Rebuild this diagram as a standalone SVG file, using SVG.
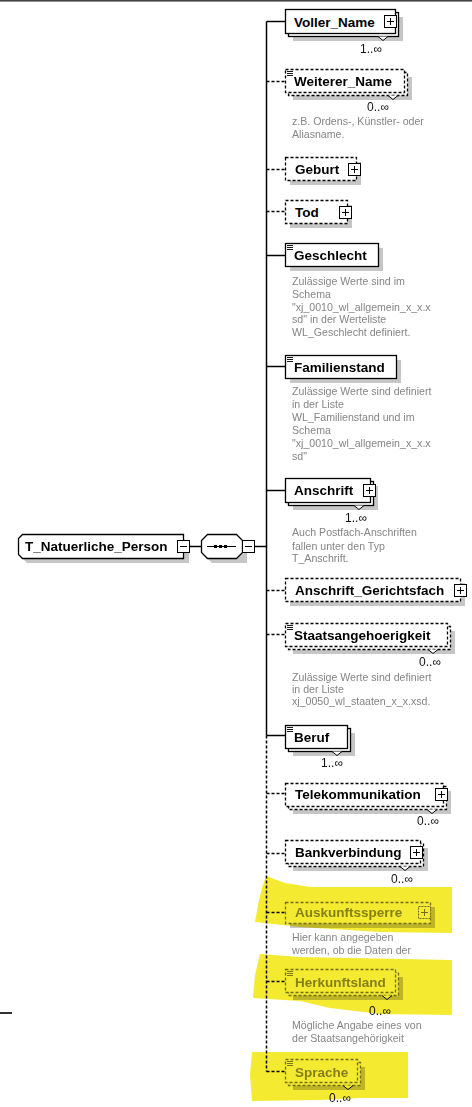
<svg xmlns="http://www.w3.org/2000/svg" xmlns:xlink="http://www.w3.org/1999/xlink" width="472" height="1107" viewBox="0 0 472 1107">
  <style>
    .box { fill: #fff; stroke: #000; stroke-width: 1.3; }
    .opt { fill: #fff; stroke: #000; stroke-width: 1.3; stroke-dasharray: 3 2; }
    .dis { fill: #fff; stroke: #777; stroke-width: 1.3; stroke-dasharray: 3 2; }
    .shadow { fill: #c6c6c6; }
    .name { font-family: "Liberation Sans", Arial, sans-serif; font-weight: bold; font-size: 13.5px; fill: #000; }
    .name-dis { font-family: "Liberation Sans", Arial, sans-serif; font-weight: bold; font-size: 13.5px; fill: #8c8c8c; }
    .occ { font-family: "Liberation Sans", Arial, sans-serif; font-size: 12px; fill: #111; text-anchor: end; }
    .doc { font-family: "Liberation Sans", Arial, sans-serif; font-size: 10.6px; fill: #858585; }
    .notch { fill: #fff; stroke: #000; stroke-width: 1; }
    .link { fill: none; stroke: #000; stroke-width: 1.5; }
    .link-opt { fill: none; stroke: #000; stroke-width: 1.5; stroke-dasharray: 3 2; }
    .mark { fill: #000; }
    .hl { fill: #f4ea30; mix-blend-mode: multiply; }
  </style>
  <defs>
    <!-- expand button -->
    <g id="plus">
      <rect x="0.5" y="0.5" width="12" height="12" fill="#fff" stroke="#000" stroke-width="1"/>
      <path d="M3 6.5h7M6.5 3v7" stroke="#000" stroke-width="1"/>
    </g>
    <g id="plus-dis">
      <rect x="0.5" y="0.5" width="12" height="12" fill="#fff" stroke="#777" stroke-width="1" stroke-dasharray="2 1"/>
      <path d="M3 6.5h7M6.5 3v7" stroke="#777" stroke-width="1"/>
    </g>
    <!-- collapse button -->
    <g id="minus">
      <rect x="0.5" y="0.5" width="12" height="12" fill="#fff" stroke="#000" stroke-width="1"/>
      <path d="M3 6.5h7" stroke="#000" stroke-width="1"/>
    </g>
    <!-- simple content indicator -->
    <g id="simple">
      <path d="M0 0.5h6M0 2.5h6M0 4.5h6" stroke="#000" stroke-width="0.9"/>
    </g>
    <g id="simple-dis">
      <path d="M0 0.5h6M0 2.5h6M0 4.5h6" stroke="#777" stroke-width="0.9"/>
    </g>
  </defs>

  <rect x="0" y="0" width="472" height="1.6" fill="#444"/>
  <rect x="0" y="1012" width="12" height="2" fill="#333"/>

  <!-- connectors -->
  <g id="connectors">
    <path class="link" d="M190 546.5H201"/>
    <path class="link" d="M255 546.5H266.5"/>
    <path class="link" d="M266.5 21.5V735.5"/>
    <path class="link-opt" d="M266.5 735.5V1071.5"/>
    <path class="link" d="M266.5 21.5H285"/>
    <path class="link-opt" d="M266.5 81.5H285"/>
    <path class="link-opt" d="M266.5 169.5H285"/>
    <path class="link-opt" d="M266.5 211.5H285"/>
    <path class="link" d="M266.5 255.5H285"/>
    <path class="link" d="M266.5 366.5H285"/>
    <path class="link" d="M266.5 490.5H285"/>
    <path class="link-opt" d="M266.5 590.5H285"/>
    <path class="link-opt" d="M266.5 634.5H285"/>
    <path class="link" d="M266.5 735.5H285"/>
    <path class="link-opt" d="M266.5 793.5H285"/>
    <path class="link-opt" d="M266.5 853.5H285"/>
    <path class="link-opt" d="M266.5 912.5H285"/>
    <path class="link-opt" d="M266.5 981.5H285"/>
    <path class="link-opt" d="M266.5 1071.5H285"/>
  </g>

  <!-- root complex type -->
  <g id="t-natuerliche-person">
    <polygon class="shadow" points="27,539 184,539 189,544 189,563 27,563 23,559 23,543"/>
    <polygon class="box" points="22.5,534.5 183.5,534.5 183.5,558.5 22.5,558.5 18.5,554.5 18.5,538.5"/>
    <text class="name" x="25" y="551">T_Natuerliche_Person</text>
    <use xlink:href="#minus" x="177" y="540"/>
  </g>

  <!-- sequence compositor -->
  <g id="sequence">
    <polygon class="shadow" points="212,539 241,539 247,545 247,563 212,563 206,557 206,545"/>
    <polygon class="box" points="207.5,534.5 236.5,534.5 242.5,540.5 242.5,552.5 236.5,558.5 207.5,558.5 201.5,552.5 201.5,540.5"/>
    <path d="M207 546.5H236" stroke="#000" stroke-width="1"/>
    <rect class="mark" x="214" y="545" width="3" height="3"/>
    <rect class="mark" x="219" y="545" width="3" height="3"/>
    <rect class="mark" x="224" y="545" width="3" height="3"/>
    <use xlink:href="#minus" x="242" y="540"/>
  </g>

  <g id="voller-name">
    <rect class="shadow" x="293" y="17" width="110" height="24"/>
    <rect class="box" x="288.5" y="12.5" width="110" height="24"/>
    <rect class="box" x="285.5" y="9.5" width="110" height="24"/>
    <text class="name" x="294" y="27">Voller_Name</text>
    <use xlink:href="#plus" x="384" y="15"/>
    <polyline class="notch" points="378,36.5 383,40.5 388,36.5"/>
    <text class="occ" x="382" y="53">1..∞</text>
  </g>

  <g id="weiterer-name">
    <rect class="shadow" x="293" y="77" width="119" height="23"/>
    <rect class="opt" x="288.5" y="72.5" width="119" height="23"/>
    <rect class="opt" x="285.5" y="69.5" width="119" height="23"/>
    <use xlink:href="#simple" x="287" y="71"/>
    <text class="name" x="294" y="86">Weiterer_Name</text>
    <polyline class="notch" points="388,95.5 393,99.5 398,95.5"/>
    <text class="occ" x="389" y="111">0..∞</text>
    <text class="doc" x="292" y="125">z.B. Ordens-, Künstler- oder</text>
    <text class="doc" x="292" y="138">Aliasname.</text>
  </g>

  <g id="geburt">
    <rect class="shadow" x="290" y="162" width="71" height="23"/>
    <rect class="opt" x="285.5" y="157.5" width="71" height="23"/>
    <text class="name" x="295" y="174">Geburt</text>
    <use xlink:href="#plus" x="348" y="163"/>
  </g>

  <g id="tod">
    <rect class="shadow" x="290" y="205" width="62" height="23"/>
    <rect class="opt" x="285.5" y="200.5" width="62" height="23"/>
    <text class="name" x="295" y="217">Tod</text>
    <use xlink:href="#plus" x="339" y="206"/>
  </g>

  <g id="geschlecht">
    <rect class="shadow" x="290" y="248" width="93" height="23"/>
    <rect class="box" x="285.5" y="243.5" width="93" height="23"/>
    <use xlink:href="#simple" x="287" y="245"/>
    <text class="name" x="294" y="260">Geschlecht</text>
    <text class="doc" x="292" y="285">Zulässige Werte sind im</text>
    <text class="doc" x="292" y="298">Schema</text>
    <text class="doc" x="292" y="310.5">"xj_0010_wl_allgemein_x_x.x</text>
    <text class="doc" x="292" y="323">sd" in der Werteliste</text>
    <text class="doc" x="292" y="336">WL_Geschlecht definiert.</text>
  </g>

  <g id="familienstand">
    <rect class="shadow" x="290" y="360" width="111" height="23"/>
    <rect class="box" x="285.5" y="355.5" width="111" height="23"/>
    <use xlink:href="#simple" x="287" y="357"/>
    <text class="name" x="294" y="372">Familienstand</text>
    <text class="doc" x="292" y="395">Zulässige Werte sind definiert</text>
    <text class="doc" x="292" y="408">in der Liste</text>
    <text class="doc" x="292" y="421">WL_Familienstand und im</text>
    <text class="doc" x="292" y="434">Schema</text>
    <text class="doc" x="292" y="447">"xj_0010_wl_allgemein_x_x.x</text>
    <text class="doc" x="292" y="460">sd"</text>
  </g>

  <g id="anschrift">
    <rect class="shadow" x="293" y="486" width="85" height="24"/>
    <rect class="box" x="288.5" y="481.5" width="85" height="24"/>
    <rect class="box" x="285.5" y="478.5" width="85" height="24"/>
    <text class="name" x="294" y="495">Anschrift</text>
    <use xlink:href="#plus" x="363" y="484"/>
    <polyline class="notch" points="354,505.5 359,509.5 364,505.5"/>
    <text class="occ" x="367" y="522">1..∞</text>
    <text class="doc" x="292" y="536">Auch Postfach-Anschriften</text>
    <text class="doc" x="292" y="549.5">fallen unter den Typ</text>
    <text class="doc" x="292" y="562">T_Anschrift.</text>
  </g>

  <g id="anschrift-gerichtsfach">
    <rect class="shadow" x="290" y="583" width="175" height="23"/>
    <rect class="opt" x="285.5" y="578.5" width="175" height="23"/>
    <text class="name" x="295" y="595">Anschrift_Gerichtsfach</text>
    <use xlink:href="#plus" x="454" y="584"/>
  </g>

  <g id="staatsangehoerigkeit">
    <rect class="shadow" x="293" y="631" width="162" height="23"/>
    <rect class="opt" x="288.5" y="626.5" width="162" height="23"/>
    <rect class="opt" x="285.5" y="623.5" width="162" height="23"/>
    <use xlink:href="#simple" x="287" y="625"/>
    <text class="name" x="294" y="640">Staatsangehoerigkeit</text>
    <polyline class="notch" points="428,649.5 433,653.5 438,649.5"/>
    <text class="occ" x="441" y="666">0..∞</text>
    <text class="doc" x="292" y="681">Zulässige Werte sind definiert</text>
    <text class="doc" x="292" y="693">in der Liste</text>
    <text class="doc" x="292" y="705">xj_0050_wl_staaten_x_x.xsd.</text>
  </g>

  <g id="beruf">
    <rect class="shadow" x="293" y="733" width="62" height="23"/>
    <rect class="box" x="288.5" y="728.5" width="62" height="23"/>
    <rect class="box" x="285.5" y="725.5" width="62" height="23"/>
    <use xlink:href="#simple" x="287" y="727"/>
    <text class="name" x="294" y="742">Beruf</text>
    <polyline class="notch" points="332,751.5 337,755.5 342,751.5"/>
    <text class="occ" x="343" y="767">1..∞</text>
  </g>

  <g id="telekommunikation">
    <rect class="shadow" x="293" y="791" width="158" height="23"/>
    <rect class="opt" x="288.5" y="786.5" width="158" height="23"/>
    <rect class="opt" x="285.5" y="783.5" width="158" height="23"/>
    <text class="name" x="295" y="799">Telekommunikation</text>
    <use xlink:href="#plus" x="435" y="788"/>
    <polyline class="notch" points="427,809.5 432,813.5 437,809.5"/>
    <text class="occ" x="439" y="825">0..∞</text>
  </g>

  <g id="bankverbindung">
    <rect class="shadow" x="293" y="848" width="135" height="23"/>
    <rect class="opt" x="288.5" y="843.5" width="135" height="23"/>
    <rect class="opt" x="285.5" y="840.5" width="135" height="23"/>
    <text class="name" x="295" y="857">Bankverbindung</text>
    <use xlink:href="#plus" x="410" y="846"/>
    <polyline class="notch" points="400,866.5 405,870.5 410,866.5"/>
    <text class="occ" x="413" y="883">0..∞</text>
  </g>

  <g id="auskunftssperre">
    <rect class="shadow" x="290" y="907" width="145" height="21"/>
    <rect class="dis" x="285.5" y="902.5" width="145" height="21"/>
    <text class="name-dis" x="295" y="917">Auskunftssperre</text>
    <use xlink:href="#plus-dis" x="418" y="906"/>
    <text class="doc" x="292" y="941">Hier kann angegeben</text>
    <text class="doc" x="292" y="954">werden, ob die Daten der</text>
  </g>

  <g id="herkunftsland">
    <rect class="shadow" x="293" y="977" width="110" height="23"/>
    <rect class="dis" x="288.5" y="972.5" width="110" height="23"/>
    <rect class="dis" x="285.5" y="969.5" width="110" height="23"/>
    <use xlink:href="#simple-dis" x="287" y="971"/>
    <text class="name-dis" x="295" y="987">Herkunftsland</text>
    <polyline class="notch" points="382,995.5 387,999.5 392,995.5" stroke="#777"/>
    <text class="occ" x="391" y="1015">0..∞</text>
    <text class="doc" x="292" y="1029">Mögliche Angabe eines von</text>
    <text class="doc" x="292" y="1042">der Staatsangehörigkeit</text>
  </g>

  <g id="sprache">
    <rect class="shadow" x="293" y="1067" width="72" height="23"/>
    <rect class="dis" x="288.5" y="1062.5" width="72" height="23"/>
    <rect class="dis" x="285.5" y="1059.5" width="72" height="23"/>
    <use xlink:href="#simple-dis" x="287" y="1061"/>
    <text class="name-dis" x="295" y="1077">Sprache</text>
    <polyline class="notch" points="343,1085.5 348,1089.5 353,1085.5" stroke="#777"/>
    <text class="occ" x="351" y="1102">0..∞</text>
  </g>

  <!-- marker highlights -->
  <g id="highlights">
    <polygon class="hl" points="266,876 285,883 310,887 452,887 452,933 380,932 300,927 255,922 258,905 262,888"/>
    <polygon class="hl" points="260,954 300,957 452,960 452,1015 380,1014 330,1008 300,1001 253,998 255,975"/>
    <polygon class="hl" points="252,1052 408,1052 408,1098 360,1098 320,1100 252,1101 250,1075"/>
  </g>
</svg>
